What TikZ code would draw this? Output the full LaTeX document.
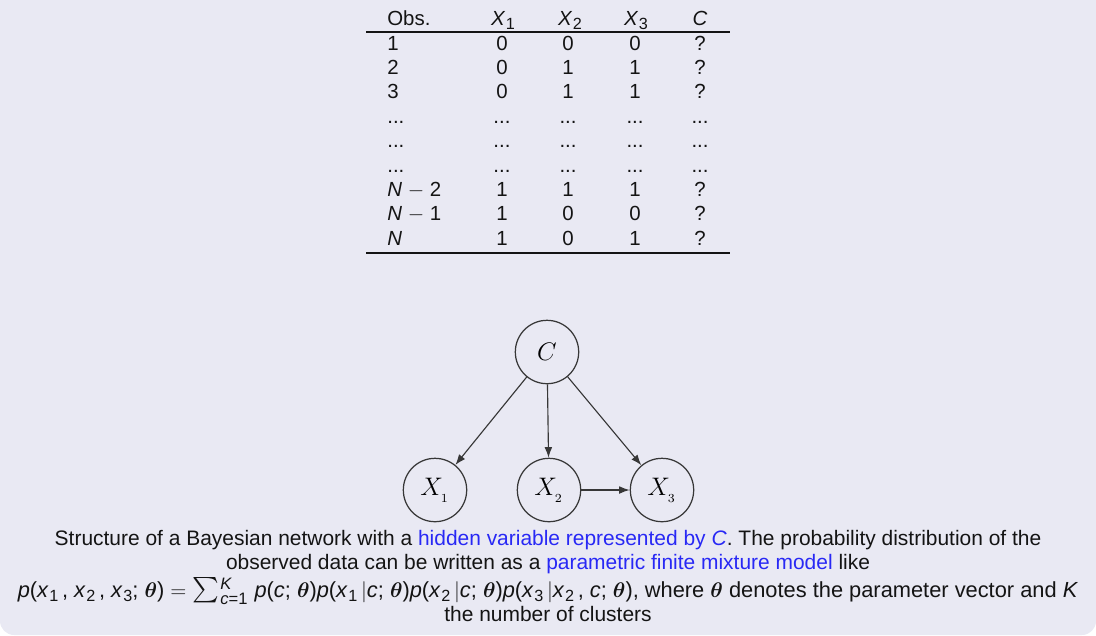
\documentclass[tikz,border=0pt]{standalone}
\usepackage{fontspec}
\setmainfont{Liberation Sans}
\usepackage{amsmath}
\usetikzlibrary{arrows.meta}
\definecolor{bg}{RGB}{233,233,243}
\definecolor{alertblue}{RGB}{40,40,245}
\definecolor{txt}{RGB}{20,20,20}
\definecolor{edge}{RGB}{55,55,55}
\newcommand{\vsub}[2]{\textit{#1}\kern0.03em\raisebox{-0.4ex}{\fontsize{9.2}{10}\selectfont #2}}
\newcommand{\bth}{$\boldsymbol{\theta}$}
\newcommand{\ssz}{\fontsize{9.4}{10}\selectfont}
\tikzset{
  cell/.style={anchor=base,inner sep=0pt,font=\fontsize{11.6}{13}\selectfont,text=txt},
  lcell/.style={cell,anchor=base west},
  rv/.style={circle,draw=edge,line width=0.7pt,minimum size=36pt,inner sep=0pt,font=\fontsize{15}{18}\selectfont},
  dep/.style={-{Latex[length=6pt,width=4.4pt]},draw=edge,line width=0.65pt},
  capline/.style={anchor=base,inner sep=0pt,font=\fontsize{11.9}{13}\selectfont,text=txt},
  rulestyle/.style={line width=0.8pt,draw=txt}
}
\begin{document}
\begin{tikzpicture}[x=0.568pt,y=-0.568pt]
\useasboundingbox (0,0) rectangle (1096,635);
\fill[bg,rounded corners=8pt] (0,-40) rectangle (1096,635);
% table
\coordinate (rl) at (366,32);
\coordinate (rr) at (730,32);
\coordinate (bl) at (366,253);
\coordinate (br) at (730,253);
\draw[rulestyle] (rl) -- (rr);
\draw[rulestyle] (bl) -- (br);
\node[lcell] (h0) at (387,25) {Obs.};
\node[cell] (h1) at (503,25) {\vsub{X}{1}};
\node[cell] (h2) at (570,25) {\vsub{X}{2}};
\node[cell] (h3) at (636,25) {\vsub{X}{3}};
\node[cell] (h4) at (700,25) {\textit{C}};
% rows
\node[lcell] (r1c0) at (387,50) {1};   \node[cell] (r1c1) at (502,50) {0}; \node[cell] (r1c2) at (568,50) {0}; \node[cell] (r1c3) at (635,50) {0}; \node[cell] (r1c4) at (700,50) {?};
\node[lcell] (r2c0) at (387,74.4) {2}; \node[cell] (r2c1) at (502,74.4) {0}; \node[cell] (r2c2) at (568,74.4) {1}; \node[cell] (r2c3) at (635,74.4) {1}; \node[cell] (r2c4) at (700,74.4) {?};
\node[lcell] (r3c0) at (387,98.8) {3}; \node[cell] (r3c1) at (502,98.8) {0}; \node[cell] (r3c2) at (568,98.8) {1}; \node[cell] (r3c3) at (635,98.8) {1}; \node[cell] (r3c4) at (700,98.8) {?};
\node[lcell] (r4c0) at (387,123.2) {...}; \node[cell] (r4c1) at (502,123.2) {...}; \node[cell] (r4c2) at (568,123.2) {...}; \node[cell] (r4c3) at (635,123.2) {...}; \node[cell] (r4c4) at (700,123.2) {...};
\node[lcell] (r5c0) at (387,147.6) {...}; \node[cell] (r5c1) at (502,147.6) {...}; \node[cell] (r5c2) at (568,147.6) {...}; \node[cell] (r5c3) at (635,147.6) {...}; \node[cell] (r5c4) at (700,147.6) {...};
\node[lcell] (r6c0) at (387,172) {...}; \node[cell] (r6c1) at (502,172) {...}; \node[cell] (r6c2) at (568,172) {...}; \node[cell] (r6c3) at (635,172) {...}; \node[cell] (r6c4) at (700,172) {...};
\node[lcell] (r7c0) at (387,196.4) {\textit{N} $-$ 2}; \node[cell] (r7c1) at (502,196.4) {1}; \node[cell] (r7c2) at (568,196.4) {1}; \node[cell] (r7c3) at (635,196.4) {1}; \node[cell] (r7c4) at (700,196.4) {?};
\node[lcell] (r8c0) at (387,220.8) {\textit{N} $-$ 1}; \node[cell] (r8c1) at (502,220.8) {1}; \node[cell] (r8c2) at (568,220.8) {0}; \node[cell] (r8c3) at (635,220.8) {0}; \node[cell] (r8c4) at (700,220.8) {?};
\node[lcell] (r9c0) at (387,245.2) {\textit{N}}; \node[cell] (r9c1) at (502,245.2) {1}; \node[cell] (r9c2) at (568,245.2) {0}; \node[cell] (r9c3) at (635,245.2) {1}; \node[cell] (r9c4) at (700,245.2) {?};
% network
\node[rv] (C) at (547,352) {$C$};
\node[rv] (X1) at (435,490) {$X_{_1}$};
\node[rv] (X2) at (549,490) {$X_{_2}$};
\node[rv] (X3) at (662,490) {$X_{_3}$};
\draw[dep] (C) -- (X1);
\draw[dep] (C) -- (X2);
\draw[dep] (C) -- (X3);
\draw[dep] (X2) -- (X3);
% caption
\node[capline] (cap1) at (548,545) {Structure of a Bayesian network with a \textcolor{alertblue}{hidden variable represented by \textit{C}}. The probability distribution of the};
\node[capline] (cap2) at (548,569) {observed data can be written as a \textcolor{alertblue}{parametric finite mixture model} like};
\node[capline,font=\fontsize{12.4}{13}\selectfont] (cap3) at (548,597) {\textit{p}(\vsub{x}{1}\,, \vsub{x}{2}\,, \vsub{x}{3}; \bth) $=$ {\Large$\sum$}\kern0.05em$_{\mbox{\ssz\itshape c}\mbox{\ssz =1}}^{\mbox{\ssz\itshape K}}$ \textit{p}(\textit{c}; \bth)\textit{p}(\vsub{x}{1}\,$|$\textit{c}; \bth)\textit{p}(\vsub{x}{2}\,$|$\textit{c}; \bth)\textit{p}(\vsub{x}{3}\,$|$\vsub{x}{2}\,, \textit{c}; \bth), where \bth\ denotes the parameter vector and \textit{K}};
\node[capline] (cap4) at (548,621) {the number of clusters};
\end{tikzpicture}
\end{document}
